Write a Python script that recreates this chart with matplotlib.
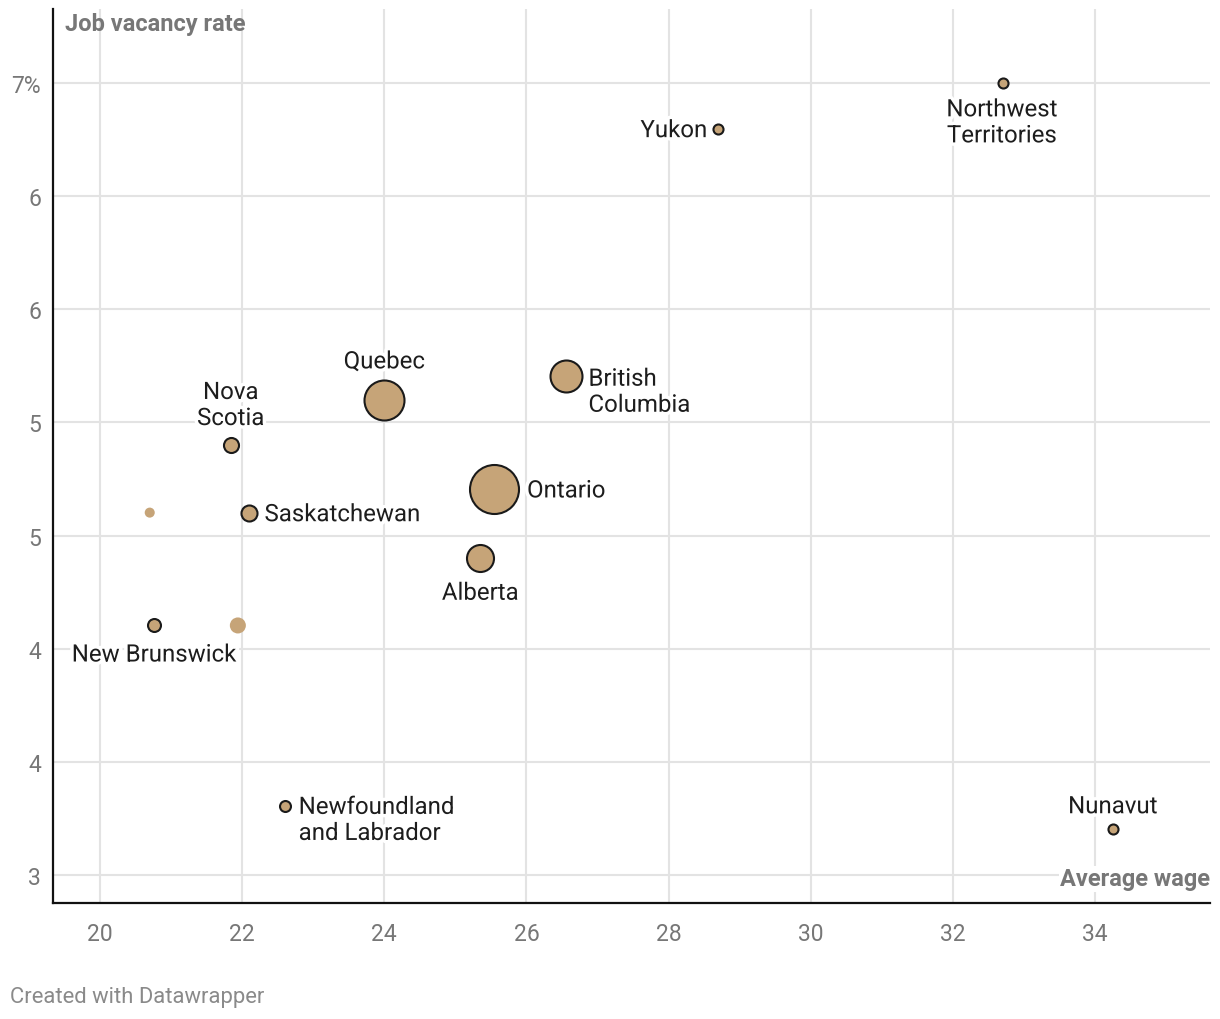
import numpy as np
import matplotlib.pyplot as plt
import matplotlib.patheffects as pe

plt.rcParams["font.family"] = ["Roboto", "DejaVu Sans"]

# data
regions = ["Northwest\nTerritories", "Yukon", "Quebec", "British\nColumbia", "Nova\nScotia",
           "Ontario", "Saskatchewan", "", "Alberta", "New Brunswick", "",
           "Newfoundland\nand Labrador", "Nunavut"]
wage = [32.71, 28.70, 24.00, 26.56, 21.84, 25.54, 22.10, 20.70, 25.35, 20.76, 21.94, 22.60, 34.25]
vacancy = [7.00, 6.77, 5.40, 5.52, 5.17, 4.95, 4.83, 4.83, 4.60, 4.26, 4.26, 3.35, 3.23]
weight = [4.2, 4.2, 66.6, 42.6, 9.4, 100, 10.7, 4.2, 30.4, 7.0, 10.7, 5.0, 4.2]
outlined = [True, True, True, True, True, True, True, False, True, True, False, True, True]

yticks = np.linspace(3, 7, 8)
xticks = [20, 22, 24, 26, 28, 30, 32, 34]

# label placement: (dx, dy) in points, ha, va
place = {
    "Northwest\nTerritories": (-1, -11, "center", "top"),
    "Yukon": (-8, -1.5, "right", "center"),
    "Quebec": (0, 19, "center", "bottom"),
    "British\nColumbia": (16, 6, "left", "top"),
    "Nova\nScotia": (0, 11, "center", "bottom"),
    "Ontario": (24, -1.5, "left", "center"),
    "Saskatchewan": (11, -1.5, "left", "center"),
    "Alberta": (0, -17, "center", "top"),
    "New Brunswick": (0, -13, "center", "top"),
    "Newfoundland\nand Labrador": (10, 7, "left", "top"),
    "Nunavut": (0, 8, "center", "bottom"),
}

fig = plt.figure(figsize=(12.2, 10.2), dpi=100)
ax = fig.add_axes([53 / 1220, 1 - 904 / 1020, 1157 / 1220, 894 / 1020])

fill = "#c6a478"
sizes = np.array(weight) * 12.45
for x, y, s, o in zip(wage, vacancy, sizes, outlined):
    ax.scatter(x, y, s=s, color=fill, edgecolors="#1a1a1a" if o else "none",
               linewidths=1.5 if o else 0, zorder=3)

halo = [pe.withStroke(linewidth=5, foreground="white")]
for name, x, y in zip(regions, wage, vacancy):
    if not name:
        continue
    dx, dy, ha, va = place[name]
    ax.annotate(name, (x, y), xytext=(dx, dy), textcoords="offset points",
                ha=ha, va=va, multialignment="center" if ha == "center" else "left",
                fontsize=17.3, color="#1d1d1d", linespacing=1.17,
                path_effects=halo, zorder=4)

ax.set_xlim(19.339, 35.618)
ax.set_ylim(2.858, 7.374)
ax.set_xticks(xticks)
ax.set_xticklabels([str(v) for v in xticks])
ax.set_yticks(yticks)
ylabels = [str(int(round(v))) for v in yticks]
ylabels[-1] = ylabels[-1] + "%"
ax.set_yticklabels(ylabels)
ax.tick_params(length=0, labelsize=16.5, labelcolor="#777777")
ax.tick_params(axis="x", pad=14)
ax.tick_params(axis="y", pad=8.5)

ax.grid(True, color="#e3e3e3", linewidth=1.5, zorder=0)
ax.set_axisbelow(True)
for side in ["top", "right"]:
    ax.spines[side].set_visible(False)
for side in ["left", "bottom"]:
    ax.spines[side].set_linewidth(1.6)
    ax.spines[side].set_color("#111111")

ax.text(12 / 1157, 1 - 14 / 894, "Job vacancy rate", transform=ax.transAxes,
        ha="left", va="center", fontsize=17, fontweight="bold", color="#777777",
        zorder=5)
ax.text(1.0, 24 / 894, "Average wage", transform=ax.transAxes,
        ha="right", va="center", fontsize=17, fontweight="bold", color="#777777",
        bbox=dict(facecolor="white", edgecolor="none", pad=1), zorder=5)

fig.text(10 / 1220, 1 - 998 / 1020, "Created with Datawrapper", ha="left", va="center",
         fontsize=15.8, color="#8a8a8a")

fig.savefig("out.png", dpi=100)
